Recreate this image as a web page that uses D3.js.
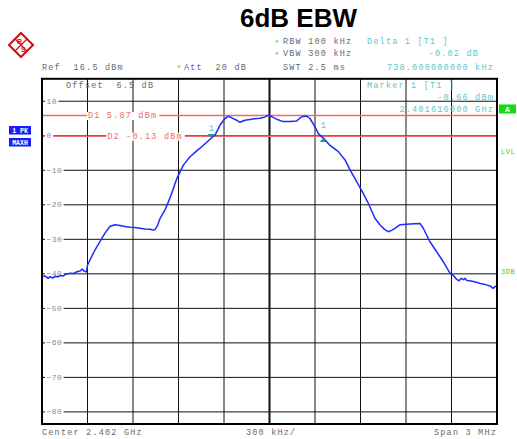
<!DOCTYPE html>
<html><head><meta charset="utf-8">
<script src="https://cdn.jsdelivr.net/npm/d3@7"></script>
<style>body{margin:0;background:#fff}svg{display:block}</style>
</head><body>
<script>
// ---- data ----
const title = "6dB EBW";
// frequency offset from centre (kHz) and level (dBm)
const traceFreq = [-1500,-1480,-1460,-1447,-1430,-1410,-1395,-1381,-1360,-1340,-1315,-1290,-1270,-1249,-1235,-1225,-1217,-1207,-1200,-1184,-1151,-1118,-1085,-1052,-1019,-986,-953,-920,-887,-854,-821,-788,-770,-755,-740,-722,-689,-656,-612,-568,-524,-491,-458,-425,-392,-384,-359,-326,-293,-272,-249,-216,-195,-162,-129,-84,-63,-30,-8,20,47,91,135,179,212,245,267,300,322,355,399,454,498,531,575,618,651,695,728,760,783,805,827,860,905,950,992,1014,1058,1102,1146,1190,1212,1234,1250,1265,1280,1289,1300,1320,1344,1370,1399,1430,1454,1475,1490,1500];
const traceLevel = [-40.9,-40.6,-41.3,-40.8,-41.2,-40.7,-40.9,-40.5,-40.6,-40.1,-39.8,-39.9,-39.4,-39.2,-38.6,-39.1,-39.3,-39.4,-37.5,-36.0,-33.1,-30.7,-28.2,-26.3,-25.8,-26.0,-26.3,-26.5,-26.6,-26.8,-27.0,-27.1,-27.3,-27.2,-26.2,-24.0,-21.5,-18.0,-12.5,-8.5,-6.1,-4.8,-3.6,-2.3,-1.0,-0.66,0.2,3.1,5.0,5.6,5.2,4.5,3.9,4.5,4.7,5.0,5.1,5.4,6.0,5.4,4.8,4.1,4.1,4.3,5.5,5.7,5.0,2.6,0.6,-0.68,-2.8,-4.6,-7.0,-9.9,-13.3,-16.7,-19.5,-23.9,-25.8,-27.2,-27.8,-27.4,-26.8,-25.8,-25.6,-25.5,-25.4,-26.8,-30.7,-33.6,-36.5,-39.8,-40.5,-41.6,-42.0,-41.3,-41.7,-41.3,-41.9,-42.0,-42.2,-42.5,-42.9,-43.2,-43.5,-44.2,-43.6,-43.5];
const levelTicks = [10,0,-10,-20,-30,-40,-50,-60,-70,-80];
const freqTicks = [-1500,-1200,-900,-600,-300,0,300,600,900,1200,1500];
const displayLines = [{name:"D1", level:5.87, label:"D1 5.87 dBm", labelFreq:-1197},
                      {name:"D2", level:-0.13, label:"D2 -0.13 dBm", labelFreq:-1070}];
const marker1 = {freq:-384, level:-0.66};
const delta1 = {freq:354, level:-0.68};
const refLevel = 16.5, bottomLevel = -83.5;

const W = 517, H = 439;
const svg = d3.select("body").append("svg").attr("width", W).attr("height", H);
const mono = "'Liberation Mono','DejaVu Sans Mono',monospace";

const x = d3.scaleLinear().domain([-1500,1500]).range([42,497]);
const y = d3.scaleLinear().domain([refLevel,bottomLevel]).range([78.8,424]);

// title
svg.append("text").attr("x",298.5).attr("y",27).attr("text-anchor","middle")
  .attr("font-family","'Liberation Sans',Arial,sans-serif").attr("font-weight","bold")
  .attr("font-size",26).attr("fill","#000").text(title);

// logo
const logo = svg.append("g").attr("transform","translate(21,45) rotate(45)");
logo.append("rect").attr("x",-8.5).attr("y",-8.5).attr("width",17).attr("height",17)
  .attr("fill","none").attr("stroke","#d01010").attr("stroke-width",2);
logo.append("line").attr("x1",-8.5).attr("y1",0).attr("x2",8.5).attr("y2",0).attr("stroke","#d01010").attr("stroke-width",1.2);
logo.append("line").attr("x1",0).attr("y1",-8.5).attr("x2",0).attr("y2",8.5).attr("stroke","#d01010").attr("stroke-width",1.2);
svg.append("text").attr("x",17).attr("y",44).attr("font-family","'Liberation Sans',sans-serif").attr("font-size",7).attr("font-weight","bold").attr("fill","#d01010").text("R");
svg.append("text").attr("x",21).attr("y",52).attr("font-family","'Liberation Sans',sans-serif").attr("font-size",7).attr("font-weight","bold").attr("fill","#d01010").text("S");

function txt(xp, yp, s, color, anchor, size, ls){
  return svg.append("text").attr("x",xp).attr("y",yp).attr("font-family",mono)
    .attr("font-size",size||8.5).attr("letter-spacing",ls===undefined?1.2:ls)
    .attr("text-anchor",anchor||"start").attr("fill",color||"#666").attr("xml:space","preserve").text(s);
}
const gray = "#6a6a6a", cyan = "#5cc8c8", green = "#22dd22", red = "#f06a6a";

// header
function star(xp, yp){ svg.append("text").attr("x",xp).attr("y",yp).attr("font-family","'DejaVu Sans',sans-serif").attr("font-size",7).attr("fill",green).text("*"); }
star(275,45); txt(283,44,"RBW 100 kHz",gray);
star(275,57); txt(283,56,"VBW 300 kHz",gray);
txt(283,69.5,"SWT 2.5 ms",gray);
txt(367,44,"Delta 1 [T1 ]",cyan);
txt(479,56,"-0.02 dB",cyan,"end");
txt(494,69.5,"738.000000000 kHz",cyan,"end");
txt(42,69.5,"Ref  16.5 dBm",gray);
star(177,70); txt(184,69.5,"Att  20 dB",gray);

// grid
const grid = svg.append("g");
grid.selectAll("line.v").data(freqTicks).join("line")
  .attr("x1",d=>x(d)).attr("x2",d=>x(d)).attr("y1",y(refLevel)).attr("y2",y(bottomLevel))
  .attr("stroke","#111").attr("stroke-width",d=>d===0?2:1);
grid.selectAll("line.h").data(levelTicks).join("line")
  .attr("x1",x(-1500)).attr("x2",x(1500)).attr("y1",d=>y(d)).attr("y2",d=>y(d))
  .attr("stroke","#111").attr("stroke-width",1);

// display lines (red)
displayLines.forEach(dl=>{
  svg.append("line").attr("x1",x(-1500)).attr("x2",x(1500)).attr("y1",y(dl.level)).attr("y2",y(dl.level))
    .attr("stroke",red).attr("stroke-width",1.6);
});

// y tick labels with white backing
levelTicks.forEach(v=>{
  const t = txt(46.5, y(v)+2.5, v<0?"\u2212"+Math.abs(v):String(v), "#8a8a8a", "start", 8, 0.4);
  const bb = t.node().getBBox();
  svg.insert("rect", function(){return t.node();}).attr("x",45).attr("y",bb.y).attr("width",bb.width+3).attr("height",bb.height)
    .attr("fill","#fff");
});
// display line labels
displayLines.forEach(dl=>{
  const t = txt(x(dl.labelFreq), y(dl.level)+2.5, dl.label, red, "start", 8.5, 1.2);
  const bb = t.node().getBBox();
  svg.insert("rect", function(){return t.node();}).attr("x",bb.x-1).attr("y",bb.y+1).attr("width",bb.width+3).attr("height",bb.height-2).attr("fill","#fff");
});

// texts in plot
txt(66,87.5,"Offset  6.5 dB",gray);
txt(367,87.5,"Marker 1 [T1 ]",cyan);
txt(494,99.5,"-0.66 dBm",cyan,"end");
txt(494,111.5,"2.401616000 GHz",cyan,"end");

// trace
const pts = traceFreq.map((f,i)=>[f,traceLevel[i]]);
svg.append("path").datum(pts)
  .attr("d", d3.line().x(d=>x(d[0])).y(d=>y(d[1])))
  .attr("fill","none").attr("stroke","#1a2cff").attr("stroke-width",1.5).attr("stroke-linejoin","round");

// markers
const mx = x(marker1.freq), my = y(marker1.level);
svg.append("path").attr("d",`M${mx-3.5},${my-4}L${mx+3.5},${my-4}L${mx},${my}Z`).attr("fill","#1a9a9a");
txt(mx, my-7.5, "1", cyan, "middle", 8.5, 0);
const dx = x(delta1.freq), dy = y(delta1.level);
svg.append("path").attr("d",`M${dx},${dy}L${dx+3.5},${dy+4}L${dx-3.5},${dy+4}Z`).attr("fill","#1a9a9a");
txt(dx, dy-10, "1", cyan, "middle", 8.5, 0);

// frame
svg.append("rect").attr("x",x(-1500)).attr("y",y(refLevel)).attr("width",x(1500)-x(-1500)).attr("height",y(bottomLevel)-y(refLevel))
  .attr("fill","none").attr("stroke","#000").attr("stroke-width",2);

// left side boxes
[["1 PK",126],["MAXH",138]].forEach(([s,yy])=>{
  svg.append("rect").attr("x",9).attr("y",yy).attr("width",22).attr("height",8.5).attr("fill","#1a1aff");
  svg.append("text").attr("x",20).attr("y",yy+6.5).attr("text-anchor","middle").attr("font-family",mono)
    .attr("font-size",6.5).attr("font-weight","bold").attr("fill","#fff").attr("xml:space","preserve").text(s);
});
// right side
svg.append("rect").attr("x",499).attr("y",104.5).attr("width",17).attr("height",9).attr("fill","#11dd11");
svg.append("text").attr("x",507.5).attr("y",112).attr("text-anchor","middle").attr("font-family",mono).attr("font-size",8).attr("font-weight","bold").attr("fill","#fff").text("A");
txt(501,154,"LVL",green,"start",7,0.5);
txt(501,274,"3DB",green,"start",7,0.5);

// bottom
txt(42,434.5,"Center 2.402 GHz",gray);
txt(246,434.5,"300 kHz/",gray);
txt(497,434.5,"Span 3 MHz",gray,"end");
</script>
</body></html>
